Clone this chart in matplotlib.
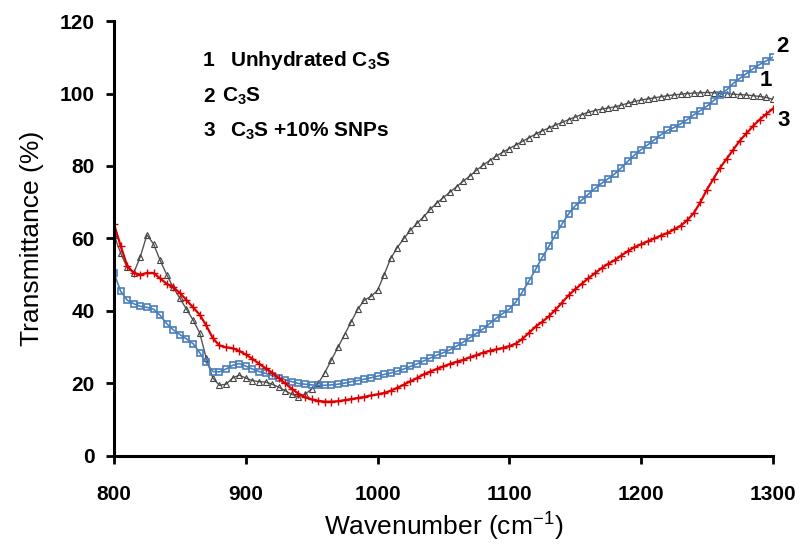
import numpy as np
import matplotlib
matplotlib.use("Agg")
import matplotlib.pyplot as plt

plt.rcParams["font.family"] = ["Liberation Sans", "DejaVu Sans"]
plt.rcParams["mathtext.default"] = "regular"

# Wavenumber grid (cm^-1)
wavenumber = list(range(800, 1301, 5))

# 1: unhydrated C3S
unhydrated = [
    61.0, 56.0, 52.0, 50.5, 55.0, 61.0, 58.5, 54.0, 50.0, 46.5,
    43.5, 40.5, 37.5, 34.0, 27.0, 21.5, 19.5, 19.8, 21.5, 22.3,
    21.5, 20.8, 20.5, 20.4, 19.8, 19.0, 18.0, 17.0, 16.3, 17.0,
    18.5, 20.0, 23.0, 26.5, 30.0, 33.5, 37.0, 40.5, 43.0, 44.0,
    45.7, 50.0, 54.5, 57.5, 60.0, 62.3, 64.2, 66.0, 68.0, 69.8,
    71.3, 72.8, 74.3, 75.8, 77.2, 78.8, 80.2, 81.5, 82.7, 83.8,
    84.8, 85.8, 86.8, 87.8, 88.8, 89.7, 90.5, 91.3, 92.0, 92.8,
    93.5, 94.2, 94.8, 95.3, 95.7, 96.0, 96.3, 96.8, 97.3, 97.8,
    98.2, 98.5, 98.8, 99.1, 99.4, 99.6, 99.8, 100.0, 100.1, 100.2,
    100.3, 100.2, 100.1, 100.0, 99.8, 99.7, 99.6, 99.4, 99.2, 98.9,
    98.4,
]

# 2: hydrated C3S
c3s = [
    50.5, 45.5, 43.0, 42.0, 41.3, 41.0, 40.5, 38.8, 36.5, 34.8,
    33.5, 32.3, 31.0, 28.5, 25.8, 23.3, 23.2, 24.0, 25.0, 25.5,
    24.8, 24.0, 23.3, 22.8, 22.2, 21.6, 21.0, 20.5, 20.0, 19.8,
    19.6, 19.5, 19.5, 19.6, 19.8, 20.1, 20.5, 20.8, 21.2, 21.6,
    22.0, 22.5, 22.9, 23.4, 24.0, 24.7, 25.4, 26.2, 27.0, 27.8,
    28.5, 29.3, 30.3, 31.4, 32.6, 33.8, 35.0, 36.5, 38.0, 39.3,
    40.5, 42.5, 45.3, 48.3, 51.5, 54.8, 57.8, 61.0, 64.0, 66.8,
    69.0, 70.6, 72.2, 73.8, 75.2, 76.5, 77.8, 79.5, 81.3, 83.0,
    84.5, 85.8, 87.2, 88.6, 89.8, 90.6, 91.6, 92.8, 94.1, 95.3,
    96.5, 98.0, 99.5, 101.0, 102.8, 104.2, 105.5, 106.8, 108.0, 109.0,
    110.0,
]

# 3: C3S + 10% SNPs
c3s_snp = [
    64.0, 58.0, 52.5, 50.5, 50.0, 50.5, 50.5, 49.0, 47.5, 46.5,
    45.0, 43.0, 41.0, 39.0, 36.0, 32.5, 30.5, 30.0, 29.7, 29.0,
    28.0, 26.8, 25.5, 24.2, 23.0, 21.5, 20.0, 18.5, 17.2, 16.2,
    15.6, 15.2, 15.0, 15.0, 15.1, 15.4, 15.7, 16.0, 16.3, 16.7,
    17.0, 17.4, 18.0, 18.8, 19.7, 20.6, 21.5, 22.5, 23.3, 24.0,
    24.7, 25.4, 26.0, 26.5, 27.2, 27.8, 28.5, 29.0, 29.4, 29.8,
    30.3, 31.0, 32.3, 34.0, 35.7, 37.0, 38.5, 40.3, 42.3, 44.3,
    46.0, 47.5, 49.0, 50.4, 51.8, 53.0, 54.0, 55.3, 56.5, 57.6,
    58.4, 59.2, 60.0, 60.8, 61.5, 62.5, 63.5, 65.0, 67.0, 70.0,
    73.5, 76.5, 79.5, 82.0, 84.5, 87.0, 89.0, 91.0, 92.8, 94.3,
    95.8,
]

x_ticks = [800, 900, 1000, 1100, 1200, 1300]
y_ticks = [0, 20, 40, 60, 80, 100, 120]

fig = plt.figure(figsize=(8.05, 5.47), dpi=100)
ax = fig.add_axes([0.1416, 0.1664, 0.8184, 0.7952])

ax.plot(wavenumber, unhydrated, color="#555555", lw=1.0, marker="^",
        ms=4.5, mfc="none", mec="#444444", mew=0.8)
ax.plot(wavenumber, c3s, color="#4a7ebb", lw=1.2, marker="s",
        ms=5, mfc="none", mec="#4a7ebb", mew=1.2)
ax.plot(wavenumber, c3s_snp, color="#dd0000", lw=1.6, marker="+",
        ms=6, mec="#dd0000", mew=1.0)

ax.set_xlim(800, 1300)
ax.set_ylim(0, 120)
ax.set_xticks(x_ticks)
ax.set_yticks(y_ticks)

for s in ("top", "right"):
    ax.spines[s].set_visible(False)
for s in ("left", "bottom"):
    ax.spines[s].set_linewidth(2.2)
ax.tick_params(direction="out", length=6, width=2, labelsize=15)
ax.tick_params(axis="x", pad=15)
ax.tick_params(axis="y", pad=8)
for lab in ax.get_xticklabels() + ax.get_yticklabels():
    lab.set_fontweight("bold")

ax.set_xlabel("Wavenumber (cm$^{-1}$)", fontsize=19, labelpad=5)
ax.set_ylabel("Transmittance (%)", fontsize=19, labelpad=11)

# Series key
key_kw = dict(transform=fig.transFigure, fontsize=15, fontweight="bold",
              va="center", ha="left")
fig.text(203 / 805, 1 - 60 / 547, "1", **key_kw)
fig.text(230 / 805, 1 - 60 / 547, "Unhydrated C$_3$S", **key_kw)
fig.text(203 / 805, 1 - 96 / 547, "2", **key_kw)
fig.text(222 / 805, 1 - 96 / 547, "C$_3$S", **key_kw)
fig.text(203 / 805, 1 - 131 / 547, "3", **key_kw)
fig.text(230 / 805, 1 - 131 / 547, "C$_3$S +10% SNPs", **key_kw)

# Curve end labels
end_kw = dict(fontsize=16, fontweight="bold", ha="center", va="center",
              clip_on=False)
ax.text(1307, 113, "2", **end_kw)
ax.text(1295, 103.5, "1", **end_kw)
ax.text(1308, 92.5, "3", **end_kw)

fig.savefig("out.png", dpi=100)
